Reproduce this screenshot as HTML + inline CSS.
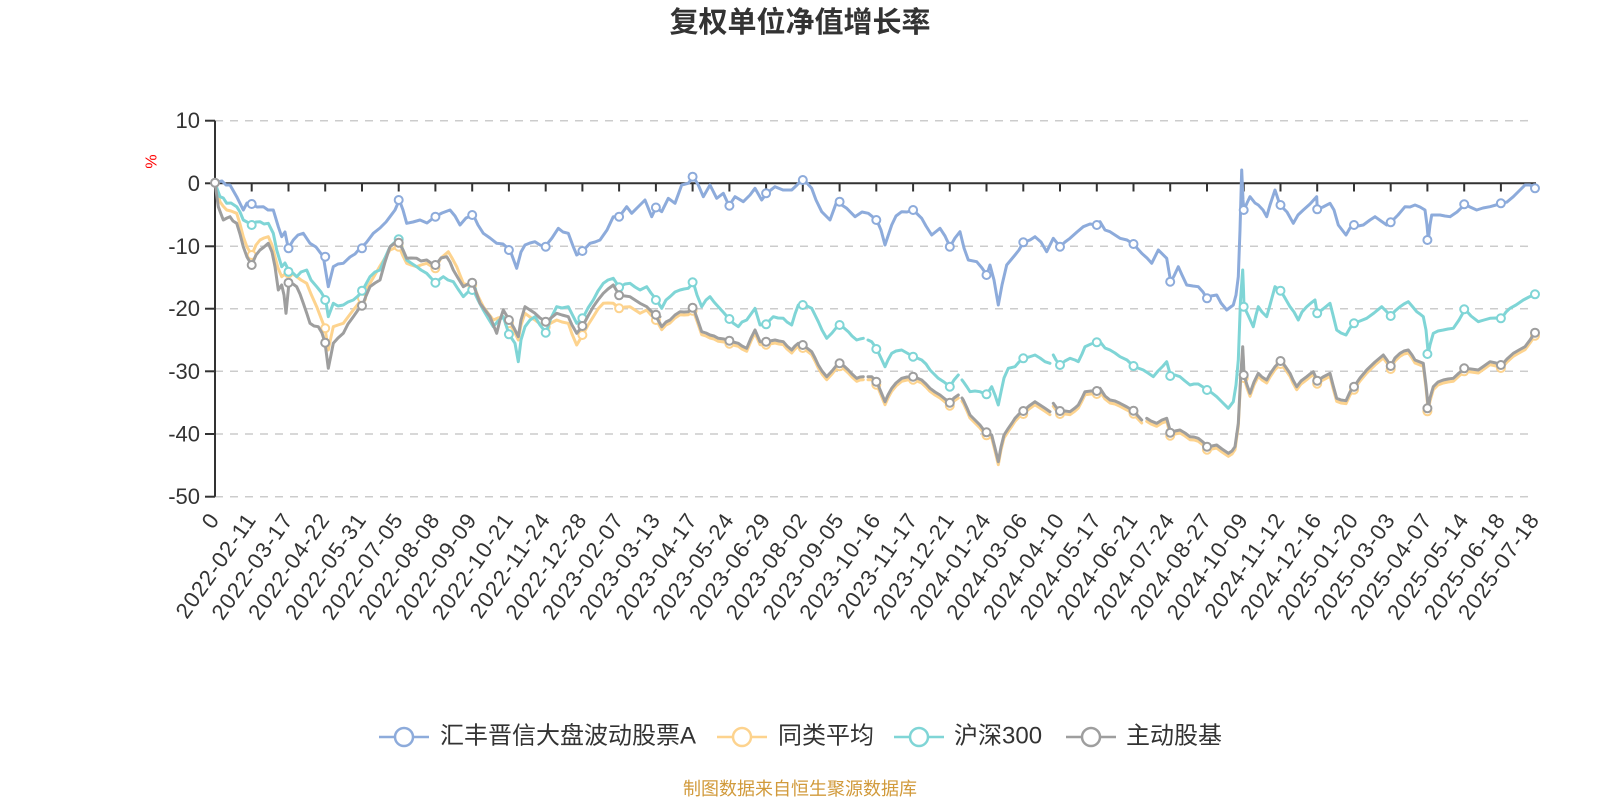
<!DOCTYPE html>
<html><head><meta charset="utf-8"><style>
html,body{margin:0;padding:0;background:#fff;}
svg{display:block;}
text{font-family:"Liberation Sans","Noto Sans CJK SC",sans-serif;}
</style></head><body>
<svg width="1600" height="800" viewBox="0 0 1600 800" xmlns="http://www.w3.org/2000/svg">
<rect width="1600" height="800" fill="#fff"/>
<text x="800" y="23" text-anchor="middle" dominant-baseline="central" font-size="29" font-weight="bold" fill="#333">复权单位净值增长率</text>

<g stroke="#cccccc" stroke-width="1.5" stroke-dasharray="8,7">
<line x1="215" y1="120.7" x2="1535" y2="120.7"/>
<line x1="215" y1="246.3" x2="1535" y2="246.3"/>
<line x1="215" y1="308.7" x2="1535" y2="308.7"/>
<line x1="215" y1="371.3" x2="1535" y2="371.3"/>
<line x1="215" y1="434" x2="1535" y2="434"/>
<line x1="215" y1="496.7" x2="1535" y2="496.7"/>
</g>

<g stroke="#333" stroke-width="2">
<line x1="215" y1="120.7" x2="215" y2="496.7"/>
<line x1="205" y1="120.7" x2="215" y2="120.7"/>
<line x1="205" y1="183.3" x2="215" y2="183.3"/>
<line x1="205" y1="246.3" x2="215" y2="246.3"/>
<line x1="205" y1="308.7" x2="215" y2="308.7"/>
<line x1="205" y1="371.3" x2="215" y2="371.3"/>
<line x1="205" y1="434" x2="215" y2="434"/>
<line x1="205" y1="496.7" x2="215" y2="496.7"/>
</g>
<g font-size="22" fill="#333" text-anchor="end" dominant-baseline="central">
<text x="200" y="120.7">10</text>
<text x="200" y="183.3">0</text>
<text x="200" y="246.3">-10</text>
<text x="200" y="308.7">-20</text>
<text x="200" y="371.3">-30</text>
<text x="200" y="434">-40</text>
<text x="200" y="496.7">-50</text>
</g>
<text x="152" y="161.5" font-size="16" fill="#ff0000" text-anchor="middle" dominant-baseline="central" transform="rotate(-90 152 161.5)">%</text>

<g stroke="#333" stroke-width="2">
<line x1="214" y1="183.3" x2="1536" y2="183.3"/>
<line x1="251.7" y1="183.3" x2="251.7" y2="191.5"/><line x1="288.5" y1="183.3" x2="288.5" y2="191.5"/><line x1="325.2" y1="183.3" x2="325.2" y2="191.5"/><line x1="362" y1="183.3" x2="362" y2="191.5"/><line x1="398.7" y1="183.3" x2="398.7" y2="191.5"/><line x1="435.4" y1="183.3" x2="435.4" y2="191.5"/><line x1="472.2" y1="183.3" x2="472.2" y2="191.5"/><line x1="508.9" y1="183.3" x2="508.9" y2="191.5"/><line x1="545.7" y1="183.3" x2="545.7" y2="191.5"/><line x1="582.4" y1="183.3" x2="582.4" y2="191.5"/><line x1="619.1" y1="183.3" x2="619.1" y2="191.5"/><line x1="655.9" y1="183.3" x2="655.9" y2="191.5"/><line x1="692.6" y1="183.3" x2="692.6" y2="191.5"/><line x1="729.4" y1="183.3" x2="729.4" y2="191.5"/><line x1="766.1" y1="183.3" x2="766.1" y2="191.5"/><line x1="802.8" y1="183.3" x2="802.8" y2="191.5"/><line x1="839.6" y1="183.3" x2="839.6" y2="191.5"/><line x1="876.3" y1="183.3" x2="876.3" y2="191.5"/><line x1="913.1" y1="183.3" x2="913.1" y2="191.5"/><line x1="949.8" y1="183.3" x2="949.8" y2="191.5"/><line x1="986.5" y1="183.3" x2="986.5" y2="191.5"/><line x1="1023.3" y1="183.3" x2="1023.3" y2="191.5"/><line x1="1060" y1="183.3" x2="1060" y2="191.5"/><line x1="1096.8" y1="183.3" x2="1096.8" y2="191.5"/><line x1="1133.5" y1="183.3" x2="1133.5" y2="191.5"/><line x1="1170.2" y1="183.3" x2="1170.2" y2="191.5"/><line x1="1207" y1="183.3" x2="1207" y2="191.5"/><line x1="1243.7" y1="183.3" x2="1243.7" y2="191.5"/><line x1="1280.5" y1="183.3" x2="1280.5" y2="191.5"/><line x1="1317.2" y1="183.3" x2="1317.2" y2="191.5"/><line x1="1354" y1="183.3" x2="1354" y2="191.5"/><line x1="1390.7" y1="183.3" x2="1390.7" y2="191.5"/><line x1="1427.4" y1="183.3" x2="1427.4" y2="191.5"/><line x1="1464.2" y1="183.3" x2="1464.2" y2="191.5"/><line x1="1500.9" y1="183.3" x2="1500.9" y2="191.5"/>
</g>

<g font-size="22" fill="#333" text-anchor="end" dominant-baseline="central" letter-spacing="1.2">
<text transform="translate(214.5,515) rotate(-55)">0</text>
<text transform="translate(251.2,515) rotate(-55)">2022-02-11</text>
<text transform="translate(288,515) rotate(-55)">2022-03-17</text>
<text transform="translate(324.7,515) rotate(-55)">2022-04-22</text>
<text transform="translate(361.5,515) rotate(-55)">2022-05-31</text>
<text transform="translate(398.2,515) rotate(-55)">2022-07-05</text>
<text transform="translate(434.9,515) rotate(-55)">2022-08-08</text>
<text transform="translate(471.7,515) rotate(-55)">2022-09-09</text>
<text transform="translate(508.4,515) rotate(-55)">2022-10-21</text>
<text transform="translate(545.2,515) rotate(-55)">2022-11-24</text>
<text transform="translate(581.9,515) rotate(-55)">2022-12-28</text>
<text transform="translate(618.6,515) rotate(-55)">2023-02-07</text>
<text transform="translate(655.4,515) rotate(-55)">2023-03-13</text>
<text transform="translate(692.1,515) rotate(-55)">2023-04-17</text>
<text transform="translate(728.9,515) rotate(-55)">2023-05-24</text>
<text transform="translate(765.6,515) rotate(-55)">2023-06-29</text>
<text transform="translate(802.3,515) rotate(-55)">2023-08-02</text>
<text transform="translate(839.1,515) rotate(-55)">2023-09-05</text>
<text transform="translate(875.8,515) rotate(-55)">2023-10-16</text>
<text transform="translate(912.6,515) rotate(-55)">2023-11-17</text>
<text transform="translate(949.3,515) rotate(-55)">2023-12-21</text>
<text transform="translate(986,515) rotate(-55)">2024-01-24</text>
<text transform="translate(1022.8,515) rotate(-55)">2024-03-06</text>
<text transform="translate(1059.5,515) rotate(-55)">2024-04-10</text>
<text transform="translate(1096.3,515) rotate(-55)">2024-05-17</text>
<text transform="translate(1133,515) rotate(-55)">2024-06-21</text>
<text transform="translate(1169.7,515) rotate(-55)">2024-07-24</text>
<text transform="translate(1206.5,515) rotate(-55)">2024-08-27</text>
<text transform="translate(1243.2,515) rotate(-55)">2024-10-09</text>
<text transform="translate(1280,515) rotate(-55)">2024-11-12</text>
<text transform="translate(1316.7,515) rotate(-55)">2024-12-16</text>
<text transform="translate(1353.5,515) rotate(-55)">2025-01-20</text>
<text transform="translate(1390.2,515) rotate(-55)">2025-03-03</text>
<text transform="translate(1426.9,515) rotate(-55)">2025-04-07</text>
<text transform="translate(1463.7,515) rotate(-55)">2025-05-14</text>
<text transform="translate(1500.4,515) rotate(-55)">2025-06-18</text>
<text transform="translate(1534.5,515) rotate(-55)">2025-07-18</text>
</g>

<g fill="none" stroke-width="3" stroke-linejoin="round" stroke-linecap="round">
<path stroke="#8dabdb" d="M215,182.3 L222,181 226,185 230,185 236.7,196.7 243.3,210 247,203 251.7,204 257,207 263.3,206.7 268,210 273.3,210 278.3,226.7 281.7,236.7 285,232 288.3,248.3 293.3,240 298,235 303.3,233.3 310,243.3 316,247 323.3,256.7 328.3,286.7 333.3,266.7 338,264 343.3,263.3 350,257 355,254 360,248.3 366,243 373.3,233.3 380,228 386,222 390,216.7 395,210 399.3,200 403,210 406.7,223.3 413,222 420,220 427,223 435,216.7 442,213 450,210 455,216 460,225 466,218 473.3,215 478,225 483.3,233.3 490,238 496.7,243.3 503,244 510,250 516.7,268.3 521,252 525,245 530,243 535,241.7 540,245 545,246.7 552,238 558.3,228.3 563,232 568.3,233.3 573,246 576.7,255 582.7,251 590,243.3 595,242 600,240 607,230 613.3,216.7 619.3,216.7 626.7,206.7 631.7,213.3 638,207 645,200 651.7,216.7 656,207.5 661.7,211.7 668.3,198.3 675,203.3 681.7,185 688.3,183.3 693.3,176.7 698.3,185 703.3,196.7 710,185 716.7,198.3 723.3,193.3 729,205.7 735,196.7 743.3,201.7 750,195 755,188.3 761.7,200 766.7,193.3 775,186.7 783,190 791.7,190 797,185 801.7,180 806,182 811.7,188.3 816,200 821.7,211.7 830,220 836.7,201.7 846.7,208.3 855,216.7 862,212 868.3,213.3 876.7,220 881,230 885,245 891.7,225 896,216 901.7,211.7 907,212 913.3,210 921.7,218.3 926,226 931.7,235 940,228.3 945,236 950,246.7 955,238 960,231.7 964,248 968.3,260 976.7,261.7 982,268 986.7,275 990,265 994,280 998.3,305 1002,285 1006.7,265 1015,255 1019,250 1023.3,242.3 1030,240 1035,236.7 1041,242 1046.7,251.7 1053.3,238.3 1060,246.7 1065,242 1070,238.3 1077,232 1083.3,226.7 1090,224 1096.7,225 1100,221.7 1105,230 1110,231.7 1115,235 1120,238.3 1127,240 1133.3,244 1141.7,253.3 1147,258 1151.7,263.3 1158.3,250 1166.7,258.3 1170.7,281.7 1174,276 1178.3,266.7 1182,275 1186.7,285 1193,286 1198.3,286.7 1203,292 1206.7,298.3 1211,296 1216.7,295 1221,303 1226.7,310 1233.3,305 1236,295 1238.3,276.7 1240,230 1241.7,170 1243,200 1244,210 1247,203 1250,196.7 1255,203 1258.3,205 1263,210 1266.7,216.7 1270,205 1275,190 1280,205 1287,212 1293.3,223.3 1298,215 1303.3,210 1310,204 1316.7,196.7 1317.3,209.3 1323,207 1330,203.3 1334,210 1338.3,225 1346,235 1350,228 1354,225 1358,226 1363.3,225 1370,220 1375,216.7 1381,221 1386.7,225 1390.7,222.3 1398,215 1405,206.7 1410,207 1415,205 1420,207 1425,210 1427,225 1428.3,240 1430,225 1431.7,215 1440,215 1445,216 1450,216.7 1457,212 1465,204.3 1470,207 1476.7,210 1483,208 1490,206.7 1496,205 1501.7,203.3 1507,202 1513.3,196.7 1519,191 1525,185 1530,185 1535,188.3"/>
</g>
<g fill="#fff" stroke="#8dabdb" stroke-width="2">
<circle cx="251.7" cy="204" r="4"/><circle cx="288.5" cy="248.3" r="4"/><circle cx="325.2" cy="256.7" r="4"/><circle cx="362" cy="248.3" r="4"/><circle cx="398.7" cy="200" r="4"/><circle cx="435.4" cy="216.7" r="4"/><circle cx="472.2" cy="215" r="4"/><circle cx="508.9" cy="250" r="4"/><circle cx="545.7" cy="246.7" r="4"/><circle cx="582.4" cy="251" r="4"/><circle cx="619.1" cy="216.7" r="4"/><circle cx="655.9" cy="207.5" r="4"/><circle cx="692.6" cy="176.7" r="4"/><circle cx="729.4" cy="205.7" r="4"/><circle cx="766.1" cy="193.3" r="4"/><circle cx="802.8" cy="180" r="4"/><circle cx="839.6" cy="201.7" r="4"/><circle cx="876.3" cy="220" r="4"/><circle cx="913.1" cy="210" r="4"/><circle cx="949.8" cy="246.7" r="4"/><circle cx="986.5" cy="275" r="4"/><circle cx="1023.3" cy="242.3" r="4"/><circle cx="1060" cy="246.7" r="4"/><circle cx="1096.8" cy="225" r="4"/><circle cx="1133.5" cy="244" r="4"/><circle cx="1170.2" cy="281.7" r="4"/><circle cx="1207" cy="298.3" r="4"/><circle cx="1243.7" cy="210" r="4"/><circle cx="1280.5" cy="205" r="4"/><circle cx="1317.2" cy="209.3" r="4"/><circle cx="1354" cy="225" r="4"/><circle cx="1390.7" cy="222.3" r="4"/><circle cx="1427.4" cy="240" r="4"/><circle cx="1464.2" cy="204.3" r="4"/><circle cx="1500.9" cy="203.3" r="4"/><circle cx="1535" cy="188.3" r="4"/>
</g>

<g fill="none" stroke="#fdd38e" stroke-width="3" stroke-linejoin="round" stroke-linecap="round">
<path d="M215,182.7 L220,201.7 223,206 226.7,210 231,211 236.7,213.3 240,224 243.3,236.7 247,247 251.7,255 256,245 260,240 264,238 268.3,236.7 272,245 275,256.7 278,268 281.7,276.7 285,274 289,273.3 293,274 296.7,276.7 301,280 306.7,283.3 311,294 316.7,306.7 321,318 325,328.3 328.3,350 331,337 333.3,326.7 338,325 343.3,323.3 348,317 353.3,310 358,304 362.3,298.3 366,290 370,283.3 380,266 390,250 395,248 399,246.7 403,256 406.7,263.3 411,265 416.7,266.7 421,265 426.7,263.3 431,266 435.7,268.3 441,258 448.3,251.7 452,258 456.7,266.7 460,275 463.3,283.3 468,285 473.3,285 478,296 483.3,306.7 488,313 493.3,320 498,318 503.3,316.7 509.3,323.3 514,331 518.3,340 521,325 525,313.3 530,317 535,320 540,324 546,326.7 551,323 556.7,320 562,322 568.3,323.3 572,334 576.7,345 582.7,335 588,325 593.3,316.7 598,309 603.3,303.3 608,303 613.3,303.3 619.3,308.3 625,307 630,306.7 635,310 640,313.3 646.7,310 651,315 656,320 660,323.3"/>
<path transform="translate(0,3)" d="M655,315 L658,320 661.7,326.7 666,322 670,320 675,315 680,311.7 684,312 688.3,311.7 693.3,307.7 697,318 701.7,331.7 706,333 710,335 714,336 718.3,338.3 724,339 729,340.7 733,342 738.3,343.3 742,346 746.7,348.3 751,338 755,330 760,341.7 766.7,341.7 770,341 775,340 779,341 783.3,341.7 787,346 791.7,350 795,346 798.3,343.3 803.3,345 807,348 811.7,351.7 815,358 818.3,365 822,371 826.7,376.7 832,371 836,366 840,363.3 844,366 848.3,370 852,374 856.7,378.3 860,377 863.3,376.7 M868,376.7 L871.7,376.7 876.7,381.7 881,392 885,401.7 888,395 891.7,388.3 896,383 901.7,378.3 907,377 913.3,376.7 917,378 921.7,380 926,384 930,388.3 935,392 940,395 945,399 950,402.7 954,398 958.3,395 M962,398 L963.3,400 967,408 970,415 975,420 980,425 983,429 986.7,432.3 991.7,435 995,448 998.3,461.7 1001,447 1004,435 1008.3,428.3 1012,423 1015,418.3 1019,414 1023.3,411 1029,406 1035,401.7 1040,405 1045,408.3 1050,411.7 M1053.3,403.3 L1056,407 1060,411 1065,411 1070,411.7 1075,408 1078.3,405 1082,398 1085,391.7 1091,391 1096.7,391 1100,388.3 1105,396 1110,400 1115,401 1120,403.3 1127,407 1133.3,410.7 1138,416 1141.7,420 M1146.7,418.3 L1151,421 1156.7,423.3 1162,420 1166.7,418.3 1170.7,432.7 1175,431 1180,430 1185,433 1190,436.7 1194,437 1198.3,438.3 1203,442 1207.3,446.7 1212,446 1216.7,445 1222,449 1228.3,453.3 1232,451 1235,446.7 1238.3,423.3 1240.5,380 1242.7,346.7 1243.5,362 1244,375 1247,385 1250,393.3 1254,382 1258.3,373.3 1262,377 1266.7,380 1270,374 1275,366.7 1280.7,361 1285,366 1290,373.3 1293,380 1296.7,386.7 1301,381 1306.7,376.7 1310,374 1313.3,371.7 1317.3,380.7 1323,377 1330,373.3 1333,385 1336.7,398.3 1341,400 1346,400.7 1350,392 1354,386.7 1360,378 1366.7,370 1375,362 1383.3,355 1387,360 1390.7,366 1395,358 1400,353.3 1404,351 1408.3,350 1412,355 1415,360 1420,362 1423.3,363.3 1426,385 1428.3,408.3 1430,398 1433.3,386.7 1438,382 1443.3,380 1448,379 1453.3,378.3 1459,373 1465,368.3 1471,369 1478.3,370 1484,366 1490,361.7 1496,363 1501.7,365 1507,359 1513.3,353.3 1519,350 1525,346.7 1530,340 1535,332.7"/>
</g>
<g fill="#fff" stroke="#fdd38e" stroke-width="2">
<circle cx="251.7" cy="255" r="4"/><circle cx="288.5" cy="273.3" r="4"/><circle cx="325.2" cy="328.3" r="4"/><circle cx="362" cy="298.3" r="4"/><circle cx="398.7" cy="246.7" r="4"/><circle cx="435.4" cy="268.3" r="4"/><circle cx="472.2" cy="285" r="4"/><circle cx="508.9" cy="323.3" r="4"/><circle cx="545.7" cy="326.7" r="4"/><circle cx="582.4" cy="335" r="4"/><circle cx="619.1" cy="308.3" r="4"/><circle cx="655.9" cy="320" r="4"/><circle cx="692.6" cy="310.7" r="4"/><circle cx="729.4" cy="343.7" r="4"/><circle cx="766.1" cy="344.7" r="4"/><circle cx="802.8" cy="348" r="4"/><circle cx="839.6" cy="366.3" r="4"/><circle cx="876.3" cy="384.7" r="4"/><circle cx="913.1" cy="379.7" r="4"/><circle cx="949.8" cy="405.7" r="4"/><circle cx="986.5" cy="435.3" r="4"/><circle cx="1023.3" cy="414" r="4"/><circle cx="1060" cy="414" r="4"/><circle cx="1096.8" cy="394" r="4"/><circle cx="1133.5" cy="413.7" r="4"/><circle cx="1170.2" cy="435.7" r="4"/><circle cx="1207" cy="449.7" r="4"/><circle cx="1243.7" cy="378" r="4"/><circle cx="1280.5" cy="364" r="4"/><circle cx="1317.2" cy="383.7" r="4"/><circle cx="1354" cy="389.7" r="4"/><circle cx="1390.7" cy="369" r="4"/><circle cx="1427.4" cy="411.3" r="4"/><circle cx="1464.2" cy="371.3" r="4"/><circle cx="1500.9" cy="368" r="4"/><circle cx="1535" cy="335.7" r="4"/>
</g>

<g fill="none" stroke="#7fd5d6" stroke-width="3" stroke-linejoin="round" stroke-linecap="round">
<path d="M215,182.7 L220,196.7 223.3,198 226.7,203.3 231,203 236.7,206.7 240,212 243.3,220 247,222 251.7,225 256,222 260,221.7 264,224 268.3,223.3 273.3,233.3 276.7,250 281.7,266.7 285,263 289.3,271.7 293,273 296.7,276.7 301,272 306.7,270 311,280 316.7,286.7 321,292 325.7,300 328.3,316.7 333.3,303.3 338,306 343.3,305 348,302 353.3,300 358,296 362.3,290.7 366,284 370,276.7 375,272 380,270 385,258 390,246.7 394,243 398.3,239.3 403,250 406.7,260 411,263 416.7,266.7 421,270 426.7,273.3 431,278 435.7,282.7 440,279 443.3,276.7 448,280 453.3,281.7 458,289 463.3,296.7 468,292 473.3,290 478,300 483.3,310 488,318 493.3,326.7 498,321 503.3,316.7 509,334.3 515,343.3 518.3,361.7 521,340 525,326.7 530,320 535,316.7 540,325 546,332.7 551,318 556.7,306.7 562,308 568.3,306.7 572,314 576.7,323.3 582.7,318.3 588,308 593.3,300 598,291 603.3,283.3 608,280 613.3,278.3 619.3,287.3 625,284 630,283.3 635,287 640,290 646.7,286.7 651,293 656,299.3 661.7,308.3 666,300 670,296.7 675,292 680,290 684,289 688.3,288.3 693.3,282.3 697,295 701.7,306.7 706,300 710,296.7 714,302 718.3,306.7 724,313 729,319 733,323 738.3,326.7 742,322 746.7,320 751,314 755,308.3 760,325 766.7,324.3 770,320 773.3,316.7 778,318 783.3,318.3 787,322 791.7,325 795,314 798.3,305 803.3,305 807,306 811.7,308.3 815,315 818.3,321.7 822,330 826.7,338.3 832,333 836,328 840,325 844,328 848.3,331.7 852,336 856.7,340 860,339 863.3,338.3 M868,340 L871.7,341.7 876.7,349 881,358 885,366.7 888,360 891.7,353.3 896,351 901.7,350 907,353 913.3,356.7 917,358 921.7,360 926,364 930,370 934,374 938.3,378.3 944,382 950,386.7 954,380 958.3,375 M962,380 L963.3,381.7 967,387 970,391.7 975,391 980,391.7 983,393 986.7,394.3 991.7,386.7 995,395 998.3,405 1001,392 1004,378 1008.3,368.3 1015,366.7 1019,362 1023.3,358.3 1029,357 1035,355 1040,358 1045,361.7 1050,363.3 M1053.3,355 L1056,360 1060,365 1065,361 1070,358.3 1075,360 1078.3,361.7 1082,354 1085,346.7 1091,344 1096.7,342.3 1100,341.7 1105,348 1110,350 1115,353 1120,356.7 1127,360 1133.3,366 1138,368 1143.3,370 1148,373 1153.3,376.7 1158,371 1163,366 1166.7,361.7 1170.7,376 1175,375 1180,376.7 1185,381 1190,385 1194,384 1198.3,384 1203,387 1207.3,390 1212,393 1216.7,396.7 1222,402 1228.3,408.3 1233.3,401.7 1236,385 1238.3,360 1240.5,300 1242.7,270 1243.5,290 1244,306.7 1248,315 1253.3,326.7 1256,315 1258.3,306.7 1262,312 1266.7,316.7 1270,305 1275,286.7 1280.7,290.7 1285,298 1290,306.7 1294,312 1298.3,320 1302,312 1306.7,306.7 1311,303 1315,300 1317.3,313.3 1323,309 1330,303.3 1333,315 1336.7,330 1341,333 1346,335 1350,328 1354,323.3 1360,321 1366.7,318.3 1374,313 1381.7,306.7 1386,311 1390.7,316 1395,311 1400,306.7 1404,304 1408.3,301.7 1412,306 1416.7,311.7 1420,314 1423.3,316.7 1426,330 1428.3,354 1430,345 1433.3,333.3 1438,331 1443.3,330 1448,329 1453.3,328.3 1459,320 1465,309.3 1471,316 1478.3,321.7 1484,320 1490,318.3 1496,318 1501.7,318.3 1506,312 1510,308.3 1516,305 1523.3,300 1529,297 1535,294.3"/>
</g>
<g fill="#fff" stroke="#7fd5d6" stroke-width="2">
<circle cx="251.7" cy="225" r="4"/><circle cx="288.5" cy="271.7" r="4"/><circle cx="325.2" cy="300" r="4"/><circle cx="362" cy="290.7" r="4"/><circle cx="398.7" cy="239.3" r="4"/><circle cx="435.4" cy="282.7" r="4"/><circle cx="472.2" cy="290" r="4"/><circle cx="508.9" cy="334.3" r="4"/><circle cx="545.7" cy="332.7" r="4"/><circle cx="582.4" cy="318.3" r="4"/><circle cx="619.1" cy="287.3" r="4"/><circle cx="655.9" cy="300" r="4"/><circle cx="692.6" cy="282.3" r="4"/><circle cx="729.4" cy="319" r="4"/><circle cx="766.1" cy="324.3" r="4"/><circle cx="802.8" cy="305" r="4"/><circle cx="839.6" cy="325" r="4"/><circle cx="876.3" cy="349" r="4"/><circle cx="913.1" cy="356.7" r="4"/><circle cx="949.8" cy="386.7" r="4"/><circle cx="986.5" cy="394.3" r="4"/><circle cx="1023.3" cy="358.3" r="4"/><circle cx="1060" cy="365" r="4"/><circle cx="1096.8" cy="342.3" r="4"/><circle cx="1133.5" cy="366" r="4"/><circle cx="1170.2" cy="376" r="4"/><circle cx="1207" cy="390" r="4"/><circle cx="1243.7" cy="306.7" r="4"/><circle cx="1280.5" cy="290.7" r="4"/><circle cx="1317.2" cy="313.3" r="4"/><circle cx="1354" cy="323.3" r="4"/><circle cx="1390.7" cy="316" r="4"/><circle cx="1427.4" cy="354" r="4"/><circle cx="1464.2" cy="309.3" r="4"/><circle cx="1500.9" cy="318.3" r="4"/><circle cx="1535" cy="294.3" r="4"/>
</g>

<g fill="none" stroke="#9e9e9e" stroke-width="3" stroke-linejoin="round" stroke-linecap="round">
<path d="M215,182.7 L218.3,206.7 221,214 223.3,220 227,218 230,216.7 233,221 236.7,223.3 240,234 243.3,246.7 247,257 251.7,265 256,255 260,250 264,247 268.3,243.3 272,252 275,266.7 278.3,290 281.7,285 284,295 286,313.3 289,282.7 293,284 296.7,286.7 300,294 303.3,303.3 307,314 310,323.3 314,326 318.3,326.7 322,333 325,342.7 328.3,368.3 331,355 333.3,343.3 338,338 343.3,333.3 348,324 353.3,316.7 358,310 362.3,305.7 366,296 370,286.7 375,283 380,280 385,262 390,246.7 395,243 399,242.7 403,250 406.7,258.3 411,258 416.7,258.3 421,261 426.7,260 431,263 435.7,265 441,258 446.7,256.7 450,262 453.3,270 458,278 463.3,286.7 468,284 472.7,282.7 476,292 480,303.3 485,310 490,316.7 496.7,333.3 500,320 503.3,310 509.3,320 514,328 518.3,336.7 521,320 525,306.7 530,310 535,313.3 540,318 546,321.7 551,318 556.7,313.3 562,315 568.3,316.7 572,325 576.7,333.3 582.7,326 588,316 593.3,306.7 598,300 603.3,293.3 608,289 613.3,285 619.3,295.3 625,296 630,296.7 635,300 640,303.3 646.7,306.7 651,311 656,314.7 660,316.7"/>
<path d="M655,315 L658,320 661.7,326.7 666,322 670,320 675,315 680,311.7 684,312 688.3,311.7 693.3,307.7 697,318 701.7,331.7 706,333 710,335 714,336 718.3,338.3 724,339 729,340.7 733,342 738.3,343.3 742,346 746.7,348.3 751,338 755,330 760,341.7 766.7,341.7 770,341 775,340 779,341 783.3,341.7 787,346 791.7,350 795,346 798.3,343.3 803.3,345 807,348 811.7,351.7 815,358 818.3,365 822,371 826.7,376.7 832,371 836,366 840,363.3 844,366 848.3,370 852,374 856.7,378.3 860,377 863.3,376.7 M868,376.7 L871.7,376.7 876.7,381.7 881,392 885,401.7 888,395 891.7,388.3 896,383 901.7,378.3 907,377 913.3,376.7 917,378 921.7,380 926,384 930,388.3 935,392 940,395 945,399 950,402.7 954,398 958.3,395 M962,398 L963.3,400 967,408 970,415 975,420 980,425 983,429 986.7,432.3 991.7,435 995,448 998.3,461.7 1001,447 1004,435 1008.3,428.3 1012,423 1015,418.3 1019,414 1023.3,411 1029,406 1035,401.7 1040,405 1045,408.3 1050,411.7 M1053.3,403.3 L1056,407 1060,411 1065,411 1070,411.7 1075,408 1078.3,405 1082,398 1085,391.7 1091,391 1096.7,391 1100,388.3 1105,396 1110,400 1115,401 1120,403.3 1127,407 1133.3,410.7 1138,416 1141.7,420 M1146.7,418.3 L1151,421 1156.7,423.3 1162,420 1166.7,418.3 1170.7,432.7 1175,431 1180,430 1185,433 1190,436.7 1194,437 1198.3,438.3 1203,442 1207.3,446.7 1212,446 1216.7,445 1222,449 1228.3,453.3 1232,451 1235,446.7 1238.3,423.3 1240.5,380 1242.7,346.7 1243.5,362 1244,375 1247,385 1250,393.3 1254,382 1258.3,373.3 1262,377 1266.7,380 1270,374 1275,366.7 1280.7,361 1285,366 1290,373.3 1293,380 1296.7,386.7 1301,381 1306.7,376.7 1310,374 1313.3,371.7 1317.3,380.7 1323,377 1330,373.3 1333,385 1336.7,398.3 1341,400 1346,400.7 1350,392 1354,386.7 1360,378 1366.7,370 1375,362 1383.3,355 1387,360 1390.7,366 1395,358 1400,353.3 1404,351 1408.3,350 1412,355 1415,360 1420,362 1423.3,363.3 1426,385 1428.3,408.3 1430,398 1433.3,386.7 1438,382 1443.3,380 1448,379 1453.3,378.3 1459,373 1465,368.3 1471,369 1478.3,370 1484,366 1490,361.7 1496,363 1501.7,365 1507,359 1513.3,353.3 1519,350 1525,346.7 1530,340 1535,332.7"/>
</g>
<g fill="#fff" stroke="#9e9e9e" stroke-width="2">
<circle cx="215" cy="182.7" r="4"/><circle cx="251.7" cy="265" r="4"/><circle cx="288.5" cy="282.7" r="4"/><circle cx="325.2" cy="342.7" r="4"/><circle cx="362" cy="305.7" r="4"/><circle cx="398.7" cy="242.7" r="4"/><circle cx="435.4" cy="265" r="4"/><circle cx="472.2" cy="282.7" r="4"/><circle cx="508.9" cy="320" r="4"/><circle cx="545.7" cy="321.7" r="4"/><circle cx="582.4" cy="326" r="4"/><circle cx="619.1" cy="295.3" r="4"/><circle cx="655.9" cy="314.7" r="4"/><circle cx="692.6" cy="307.7" r="4"/><circle cx="729.4" cy="340.7" r="4"/><circle cx="766.1" cy="341.7" r="4"/><circle cx="802.8" cy="345" r="4"/><circle cx="839.6" cy="363.3" r="4"/><circle cx="876.3" cy="381.7" r="4"/><circle cx="913.1" cy="376.7" r="4"/><circle cx="949.8" cy="402.7" r="4"/><circle cx="986.5" cy="432.3" r="4"/><circle cx="1023.3" cy="411" r="4"/><circle cx="1060" cy="411" r="4"/><circle cx="1096.8" cy="391" r="4"/><circle cx="1133.5" cy="410.7" r="4"/><circle cx="1170.2" cy="432.7" r="4"/><circle cx="1207" cy="446.7" r="4"/><circle cx="1243.7" cy="375" r="4"/><circle cx="1280.5" cy="361" r="4"/><circle cx="1317.2" cy="380.7" r="4"/><circle cx="1354" cy="386.7" r="4"/><circle cx="1390.7" cy="366" r="4"/><circle cx="1427.4" cy="408.3" r="4"/><circle cx="1464.2" cy="368.3" r="4"/><circle cx="1500.9" cy="365" r="4"/><circle cx="1535" cy="332.7" r="4"/>
</g>

<g stroke-width="2.5" fill="#fff">
<line x1="379" y1="737" x2="429" y2="737" stroke="#8dabdb"/><circle cx="404" cy="737" r="9" stroke="#8dabdb"/>
<line x1="717" y1="737" x2="767" y2="737" stroke="#fdd38e"/><circle cx="742" cy="737" r="9" stroke="#fdd38e"/>
<line x1="894" y1="737" x2="944" y2="737" stroke="#7fd5d6"/><circle cx="919" cy="737" r="9" stroke="#7fd5d6"/>
<line x1="1066" y1="737" x2="1116" y2="737" stroke="#9e9e9e"/><circle cx="1091" cy="737" r="9" stroke="#9e9e9e"/>
</g>
<g font-size="24" fill="#333" dominant-baseline="central">
<text x="440" y="736">汇丰晋信大盘波动股票A</text>
<text x="778" y="736">同类平均</text>
<text x="954" y="736">沪深300</text>
<text x="1126" y="736">主动股基</text>
</g>
<text x="800" y="789" font-size="18" fill="#d19a3b" text-anchor="middle" dominant-baseline="central">制图数据来自恒生聚源数据库</text>
</svg>
</body></html>
